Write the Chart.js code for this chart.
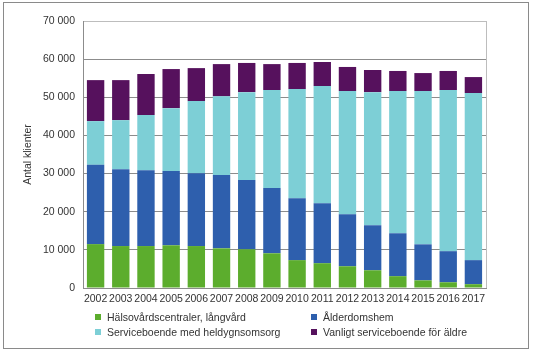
<!DOCTYPE html>
<html>
<head>
<meta charset="utf-8">
<script src="https://cdn.jsdelivr.net/npm/chart.js@4"></script>
<style>
  body { margin: 0; background: #fff; }
  #wrap { position: relative; width: 540px; height: 350px; font-family: "Liberation Sans", Arial, sans-serif; }
  #frame { position: absolute; left: 3px; top: 2px; width: 524px; height: 345px; border: 1px solid #8a8a8a; pointer-events: none; }
  #legend { position: absolute; left: 95px; top: 310px; width: 420px; display: grid; grid-template-columns: 216px 200px; row-gap: 2px; font-size: 10.5px; color: #333; }
  #legend span.item { display: flex; align-items: center; height: 13px; white-space: nowrap; }
  #legend i { display: inline-block; width: 6px; height: 6px; margin-right: 6px; }
</style>
</head>
<body>
<div id="wrap">
  <canvas id="chart" width="540" height="350"></canvas>
  <div id="frame"></div>
  <div id="legend"></div>
</div>
<script>
const years = ["2002", "2003", "2004", "2005", "2006", "2007", "2008", "2009", "2010", "2011", "2012", "2013", "2014", "2015", "2016", "2017"];

const halsovard = [11500, 11000, 11000, 11200, 11000, 10400, 10150, 9100, 7300, 6500, 5700, 4650, 3100, 2000, 1500, 1000];
const alderdomshem = [20800, 20150, 19900, 19450, 19100, 19200, 18150, 17100, 16250, 15750, 13650, 11800, 11250, 9450, 8150, 6300];
const heldygn = [11450, 12850, 14450, 16500, 18900, 20650, 23050, 25700, 28600, 30700, 32300, 34900, 37300, 40200, 42250, 43800];
const vanligt = [10750, 10500, 10750, 10250, 8650, 8450, 7650, 6800, 6850, 6300, 6300, 5800, 5250, 4700, 5000, 4200];

const yMax = 70000;
const yStep = 10000;

const fontSpec = { size: 10.5, family: "'Liberation Sans', Arial, sans-serif" };

const fmt = (v) => String(v).replace(/\B(?=(\d{3})+(?!\d))/g, " ");

// ram runt ritytan (höger kant ljusgrå)
const areaBorder = {
  id: "areaBorder",
  afterDraw(chart) {
    const { ctx, chartArea: a } = chart;
    ctx.save();
    ctx.strokeStyle = "#bdbdbd";
    ctx.lineWidth = 1;
    ctx.beginPath();
    ctx.moveTo(Math.round(a.right) + 0.5, a.top);
    ctx.lineTo(Math.round(a.right) + 0.5, a.bottom);
    ctx.stroke();
    ctx.restore();
  },
};

const chart = new Chart(document.getElementById("chart"), {
  type: "bar",
  data: {
    labels: years,
    datasets: [
      { label: "Hälsovårdscentraler, långvård", data: halsovard, backgroundColor: "#5cad2d" },
      { label: "Ålderdomshem", data: alderdomshem, backgroundColor: "#2e5fad" },
      { label: "Serviceboende med heldygnsomsorg", data: heldygn, backgroundColor: "#7dcfd6" },
      { label: "Vanligt serviceboende för äldre", data: vanligt, backgroundColor: "#56115d" },
    ],
  },
  options: {
    responsive: false,
    animation: false,
    layout: { padding: { top: 21, right: 54, left: 0, bottom: 0 } },
    datasets: { bar: { barPercentage: 0.69, categoryPercentage: 1 } },
    plugins: {
      legend: { display: false },
      tooltip: { enabled: false },
    },
    scales: {
      x: {
        stacked: true,
        afterFit: (s) => { s.height = 62; },
        ticks: { font: fontSpec, color: "#333", maxRotation: 0, autoSkip: false, padding: 5 },
        grid: { display: false, drawTicks: false },
        border: { color: "#8c8c8c" },
      },
      y: {
        stacked: true,
        min: 0,
        max: yMax,
        afterFit: (s) => { s.width = 83; },
        ticks: { stepSize: yStep, font: fontSpec, color: "#333", padding: 8, callback: (v) => fmt(v) },
        grid: {
          drawTicks: false,
          color: (c) => (c.tick && c.tick.value === yMax ? "#bdbdbd" : "#8c8c8c"),
        },
        border: { color: "#8c8c8c" },
        title: { display: true, text: "Antal klienter", font: fontSpec, color: "#333", padding: { top: 22, bottom: 0 } },
      },
    },
  },
  plugins: [areaBorder],
});

// legend i två kolumner
const legendEl = document.getElementById("legend");
chart.data.datasets.forEach((ds) => {
  const item = document.createElement("span");
  item.className = "item";
  item.innerHTML = `<i style="background:${ds.backgroundColor}"></i>${ds.label}`;
  legendEl.appendChild(item);
});
</script>
</body>
</html>
